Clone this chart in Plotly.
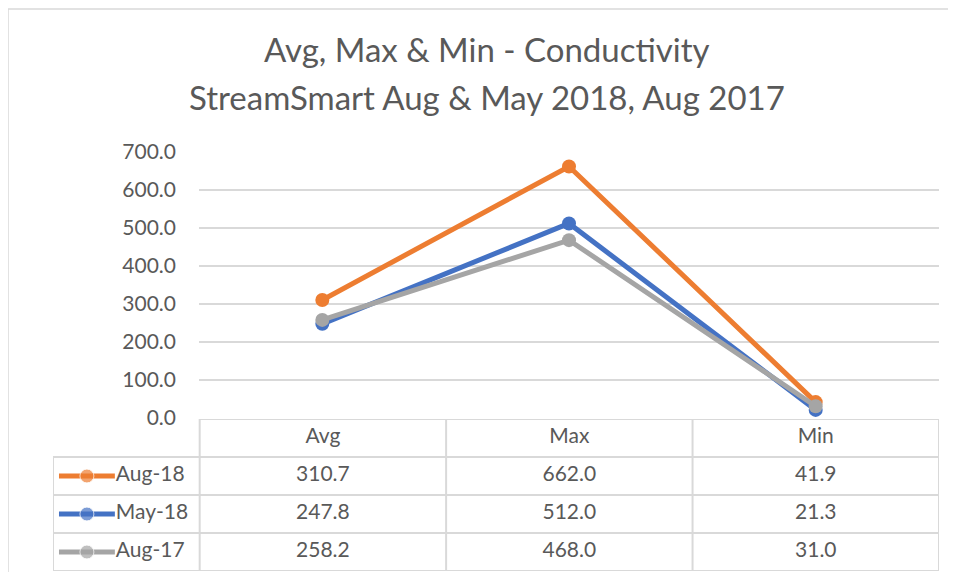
import plotly.graph_objects as go

categories = ["Avg", "Max", "Min"]
series_names = ["Aug-18", "May-18", "Aug-17"]
aug18 = [310.7, 662.0, 41.9]
may18 = [247.8, 512.0, 21.3]
aug17 = [258.2, 468.0, 31.0]
colors = ["#ED7D31", "#4472C4", "#A5A5A5"]
title_lines = ["Avg, Max & Min - Conductivity", "StreamSmart Aug & May 2018, Aug 2017"]

# page body has an 8px margin; figure is sized to fit inside the window
OFF = 8
W, H = 940, 564
FONT = "Lato, 'Open Sans', sans-serif"
TXT = "#595959"
GRID = "#D9D9D9"


def xp(px):
    return (px - OFF) / W


def yp(py):
    return 1 - (py - OFF) / H


fig = go.Figure()
all_series = [aug18, may18, aug17]

for name, vals, col in zip(series_names, all_series, colors):
    fig.add_trace(go.Scatter(
        x=categories, y=vals, mode="lines+markers", name=name,
        line=dict(color=col, width=5),
        marker=dict(color=col, size=14),
        xaxis="x", yaxis="y", cliponaxis=False, showlegend=False,
    ))

leg_w = 147 / 247.0
x_left = -0.5 - leg_w
fig.add_trace(go.Scatter(
    x=[0, 1, 2], y=[0, 0, 0], text=categories, mode="text",
    textfont=dict(family=FONT, size=21, color=TXT),
    xaxis="x2", yaxis="y2", showlegend=False, hoverinfo="skip",
))
for i, (name, vals, col) in enumerate(zip(series_names, all_series, colors)):
    row = i + 1
    fig.add_trace(go.Scatter(
        x=[0, 1, 2], y=[row] * 3, text=[f"{v:.1f}" for v in vals], mode="text",
        textfont=dict(family=FONT, size=21, color=TXT),
        xaxis="x2", yaxis="y2", showlegend=False, hoverinfo="skip",
    ))
    a = x_left + 6 / 247.0
    b = x_left + 62 / 247.0
    fig.add_trace(go.Scatter(
        x=[a, (a + b) / 2, b], y=[row] * 3, mode="lines+markers",
        line=dict(color=col, width=5),
        marker=dict(color=col, size=[0, 14, 0]),
        xaxis="x2", yaxis="y2", showlegend=False, hoverinfo="skip",
    ))
    fig.add_trace(go.Scatter(
        x=[x_left + 63 / 247.0], y=[row], text=[name], mode="text",
        textposition="middle right",
        textfont=dict(family=FONT, size=21, color=TXT),
        xaxis="x2", yaxis="y2", showlegend=False, hoverinfo="skip",
    ))

shapes = []
line_style = dict(color=GRID, width=2)
shapes.append(dict(type="line", xref="x2", yref="y2", x0=-0.5, x1=2.5, y0=-0.5, y1=-0.5, line=line_style))
for yy in [0.5, 1.5, 2.5, 3.5]:
    shapes.append(dict(type="line", xref="x2", yref="y2", x0=x_left, x1=2.5, y0=yy, y1=yy, line=line_style))
for xx in [-0.5, 0.5, 1.5, 2.5]:
    shapes.append(dict(type="line", xref="x2", yref="y2", x0=xx, x1=xx, y0=-0.5, y1=3.5, line=line_style))
shapes.append(dict(type="line", xref="x2", yref="y2", x0=x_left, x1=x_left, y0=0.5, y1=3.5, line=line_style))
shapes.append(dict(type="rect", xref="paper", yref="paper", x0=xp(8), x1=xp(970), y0=yp(9), y1=yp(600),
                   line=dict(color=GRID, width=1.5), layer="below"))

annotations = [
    dict(text=title_lines[0], x=xp(487), y=yp(49), xref="paper", yref="paper",
         showarrow=False, xanchor="center", yanchor="middle",
         font=dict(family=FONT, size=33, color=TXT)),
    dict(text=title_lines[1], x=xp(487), y=yp(97), xref="paper", yref="paper",
         showarrow=False, xanchor="center", yanchor="middle",
         font=dict(family=FONT, size=33, color=TXT)),
]

fig.update_layout(
    width=W, height=H, autosize=False,
    margin=dict(l=0, r=0, t=0, b=0, pad=0),
    paper_bgcolor="white", plot_bgcolor="white",
    shapes=shapes, annotations=annotations,
    xaxis=dict(domain=[xp(199), xp(939)], range=[-0.5, 2.5], type="category", automargin=False,
               showticklabels=False, showgrid=False, zeroline=False, showline=False, ticks=""),
    yaxis=dict(domain=[yp(418), yp(152)], range=[0, 700], dtick=100, tickformat=".1f",
               automargin=False,
               showgrid=True, gridcolor=GRID, gridwidth=1.5, zeroline=False, showline=False,
               ticks="", ticklabelstandoff=22,
               tickfont=dict(family=FONT, size=21, color=TXT)),
    xaxis2=dict(domain=[xp(53), xp(939)], range=[x_left, 2.5], visible=False, automargin=False),
    yaxis2=dict(domain=[yp(571), yp(419)], range=[3.5, -0.5], visible=False, automargin=False),
)

fig.write_html("out.html")
